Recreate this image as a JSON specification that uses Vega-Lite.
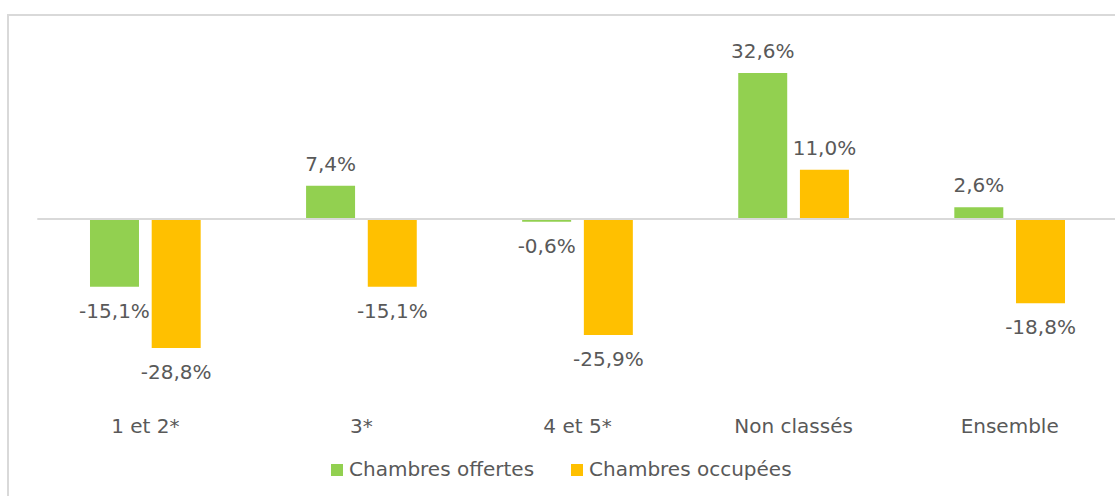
{
  "$schema": "https://vega.github.io/schema/vega-lite/v6.json",
  "width": 1139,
  "height": 490,
  "padding": {"left": 8, "top": 15, "right": 0, "bottom": 0},
  "background": "white",
  "data": {
    "values": [
      {"cat": "1 et 2*", "serie": "Chambres offertes", "value": -0.151},
      {"cat": "1 et 2*", "serie": "Chambres occupées", "value": -0.288},
      {"cat": "3*", "serie": "Chambres offertes", "value": 0.074},
      {"cat": "3*", "serie": "Chambres occupées", "value": -0.151},
      {"cat": "4 et 5*", "serie": "Chambres offertes", "value": -0.006},
      {"cat": "4 et 5*", "serie": "Chambres occupées", "value": -0.259},
      {"cat": "Non classés", "serie": "Chambres offertes", "value": 0.326},
      {"cat": "Non classés", "serie": "Chambres occupées", "value": 0.110},
      {"cat": "Ensemble", "serie": "Chambres offertes", "value": 0.026},
      {"cat": "Ensemble", "serie": "Chambres occupées", "value": -0.188}
    ]
  },
  "layer": [
    {
      "mark": {"type": "bar"},
      "encoding": {
        "x": {
          "field": "cat",
          "type": "nominal",
          "sort": null,
          "scale": {"paddingInner": 0, "paddingOuter": 0.1356},
          "axis": {
            "title": null,
            "orient": "bottom",
            "offset": -79,
            "domain": false,
            "ticks": false,
            "tickSize": 0,
            "labelPadding": 0,
            "labelBaseline": "middle",
            "labelAngle": 0,
            "labelFontSize": 20,
            "labelFont": "DejaVu Sans",
            "labelColor": "#595959",
            "grid": false
          }
        },
        "xOffset": {
          "field": "serie",
          "type": "nominal",
          "sort": ["Chambres offertes", "Chambres occupées"],
          "scale": {"paddingInner": 0.206, "paddingOuter": 0.854}
        },
        "y": {
          "field": "value",
          "type": "quantitative",
          "scale": {"domain": [-0.6384, 0.4554], "nice": false, "zero": false},
          "axis": null
        },
        "color": {
          "field": "serie",
          "type": "nominal",
          "scale": {
            "domain": ["Chambres offertes", "Chambres occupées"],
            "range": ["#92d050", "#ffc000"]
          },
          "legend": {
            "title": null,
            "orient": "none",
            "direction": "horizontal",
            "legendX": 319,
            "legendY": 445,
            "symbolType": "square",
            "symbolSize": 144,
            "symbolStrokeWidth": 0,
            "labelFontSize": 20,
            "labelFont": "DejaVu Sans",
            "labelColor": "#595959",
            "labelOffset": 2,
            "labelLimit": 400,
            "columnPadding": 32
          }
        }
      }
    },
    {
      "transform": [
        {"filter": "datum.cat === '1 et 2*' && datum.serie === 'Chambres offertes'"}
      ],
      "mark": {"type": "rule", "color": "#d9d9d9", "strokeWidth": 2},
      "encoding": {
        "x": {"field": "cat", "type": "nominal", "sort": null, "bandPosition": 0},
        "x2": {"value": "width"},
        "y": {"datum": 0, "type": "quantitative"}
      }
    },
    {
      "transform": [
        {"filter": "datum.value >= 0"},
        {"calculate": "replace(replace(format(datum.value, '.1%'), '.', ','), '\u2212', '-')", "as": "label"}
      ],
      "mark": {"type": "text", "fontSize": 20, "font": "DejaVu Sans", "color": "#595959", "baseline": "middle", "align": "center", "dy": -21},
      "encoding": {
        "x": {"field": "cat", "type": "nominal", "sort": null},
        "xOffset": {"field": "serie", "type": "nominal", "sort": ["Chambres offertes", "Chambres occupées"]},
        "y": {"field": "value", "type": "quantitative"},
        "text": {"field": "label", "type": "nominal"}
      }
    },
    {
      "transform": [
        {"filter": "datum.value < 0"},
        {"calculate": "replace(replace(format(datum.value, '.1%'), '.', ','), '\u2212', '-')", "as": "label"}
      ],
      "mark": {"type": "text", "fontSize": 20, "font": "DejaVu Sans", "color": "#595959", "baseline": "middle", "align": "center", "dy": 25},
      "encoding": {
        "x": {"field": "cat", "type": "nominal", "sort": null},
        "xOffset": {"field": "serie", "type": "nominal", "sort": ["Chambres offertes", "Chambres occupées"]},
        "y": {"field": "value", "type": "quantitative"},
        "text": {"field": "label", "type": "nominal"}
      }
    }
  ],
  "config": {
    "view": {"stroke": "#d9d9d9", "strokeWidth": 2}
  }
}
